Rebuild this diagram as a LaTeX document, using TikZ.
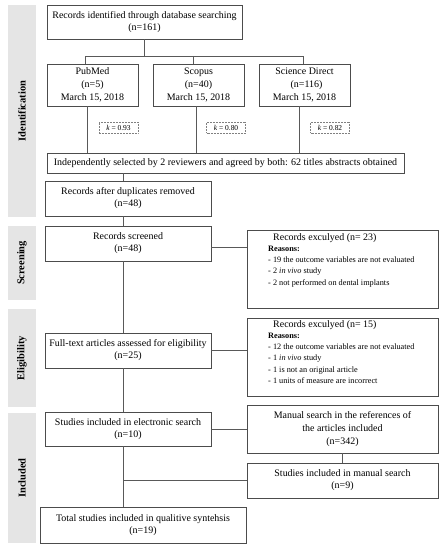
\documentclass[tikz,border=0pt]{standalone}
\usepackage{fontspec}
\setmainfont{Liberation Serif}
\begin{document}
\begin{tikzpicture}[x=1bp,y=-1bp,
  box/.style={draw=black!70,line width=0.7bp,align=center,inner sep=0pt,
    font=\fontsize{10}{12}\selectfont},
  tbox/.style={box,font=\fontsize{10}{13}\selectfont},
  kbox/.style={draw=black!50,densely dotted,line width=0.5bp,inner sep=0pt,
    minimum width=39bp,minimum height=11bp,font=\fontsize{7.5}{8}\selectfont},
  band/.style={fill=black!10,draw=none},
  bandlabel/.style={rotate=90,font=\fontsize{10.5}{12}\selectfont\bfseries},
  conn/.style={draw=black!65,line width=0.7bp},
  reasons/.style={anchor=north west,align=left,inner sep=0pt,
    font=\fontsize{8.3}{11.3}\selectfont}]
\useasboundingbox (0,0) rectangle (445,550);
% bands
\fill[band] (8,5) rectangle (36,217);
\fill[band] (8,226) rectangle (36,300);
\fill[band] (8,309) rectangle (36,407);
\fill[band] (8,413) rectangle (36,543);
\node[bandlabel] (lid) at (22,111) {Identification};
\node[bandlabel] (lsc) at (22,263) {Screening};
\node[bandlabel] (lel) at (22,358) {Eligibility};
\node[bandlabel] (lin) at (22,478) {Included};
% boxes
\node[box,minimum width=195bp,minimum height=34bp] (rec) at (144.5,22) {Records identified through database searching\\(n=161)};
\node[tbox,minimum width=91bp,minimum height=42bp] (pub) at (92.5,85) {PubMed\\(n=5)\\March 15, 2018};
\node[tbox,minimum width=91bp,minimum height=42bp] (sco) at (198.5,85) {Scopus\\(n=40)\\March 15, 2018};
\node[tbox,minimum width=91bp,minimum height=42bp] (sd) at (304.5,85) {Science Direct\\\hspace*{4bp}(n=116)\\March 15, 2018};
\node[kbox] (k1) at (118.5,127.5) {\textit{k} = 0.93};
\node[kbox] (k2) at (226,127.5) {\textit{k} = 0.80};
\node[kbox] (k3) at (330,127.5) {\textit{k} = 0.82};
\node[box,minimum width=357bp,minimum height=20bp] (ind) at (225.5,163) {Independently selected by 2 reviewers and agreed by both: 62 titles abstracts obtained};
\node[box,minimum width=166bp,minimum height=35bp] (dup) at (128,198.5) {Records after duplicates removed\\(n=48)};
\node[box,minimum width=166bp,minimum height=35bp] (scr) at (128,243.5) {Records screened\\(n=48)};
\node[box,minimum width=191bp,minimum height=78bp] (ex1) at (342.5,269) {};
\node[reasons] (ex1t) at (268,233.5) {\hspace*{5bp}{\fontsize{10}{12}\selectfont Records exculyed (n= 23)}\\[-0.5bp]\textbf{Reasons:}\\- 19 the outcome variables are not evaluated\\- 2 \textit{in vivo} study\\- 2 not performed on dental implants};
\node[box,minimum width=166bp,minimum height=35bp] (full) at (128,350.5) {Full-text articles assessed for eligibility\\(n=25)};
\node[box,minimum width=191bp,minimum height=78bp] (ex2) at (342.5,357) {};
\node[reasons] (ex2t) at (268,320.5) {\hspace*{5bp}{\fontsize{10}{12}\selectfont Records exculyed (n= 15)}\\[-0.5bp]\textbf{Reasons:}\\- 12 the outcome variables are not evaluated\\- 1 \textit{in vivo} study\\- 1 is not an original article\\- 1 units of measure are incorrect};
\node[box,minimum width=166bp,minimum height=34bp] (ele) at (128,429) {Studies included in electronic search\\(n=10)};
\node[tbox,minimum width=191bp,minimum height=48bp] (man) at (342.5,429) {Manual search in the references of\\the articles included\\(n=342)};
\node[box,minimum width=191bp,minimum height=35bp] (msr) at (342.5,480.5) {Studies included in manual search\\(n=9)};
\node[box,minimum width=206bp,minimum height=36bp] (tot) at (143,525) {Total studies included in qualitive syntehsis\\(n=19)};
% connectors
\coordinate (jl) at (85,56);
\coordinate (jm) at (193,56);
\coordinate (jr) at (303,56);
\coordinate (cx) at (123,0);
\draw[conn] (rec.south) -- (rec.south |- jl);
\draw[conn] (jl |- pub.north) -- (jl) -- (jr) -- (jr |- sd.north);
\draw[conn] (jm) -- (jm |- sco.north);
\draw[conn] ([xshift=-5.5bp]pub.south) -- ([xshift=-5.5bp]pub.south |- ind.north);
\draw[conn] ([xshift=-2.5bp]sco.south) -- ([xshift=-2.5bp]sco.south |- ind.north);
\draw[conn] ([xshift=-5.5bp]sd.south) -- ([xshift=-5.5bp]sd.south |- ind.north);
\draw[conn] (ind.south -| cx) -- (dup.north -| cx);
\draw[conn] (dup.south -| cx) -- (scr.north -| cx);
\draw[conn] (scr.south -| cx) -- (full.north -| cx);
\draw[conn] (full.south -| cx) -- (ele.north -| cx);
\draw[conn] (ele.south -| cx) -- (tot.north -| cx);
\draw[conn] ([yshift=-3.5bp]scr.east) -- ([yshift=-3.5bp]scr.east -| ex1.west);
\draw[conn] (full.east) -- (full.east -| ex2.west);
\draw[conn] (ele.east) -- (ele.east -| man.west);
\draw[conn] (man.south) -- (msr.north);
\draw[conn] (msr.west) -- (msr.west -| cx);
\end{tikzpicture}
\end{document}
